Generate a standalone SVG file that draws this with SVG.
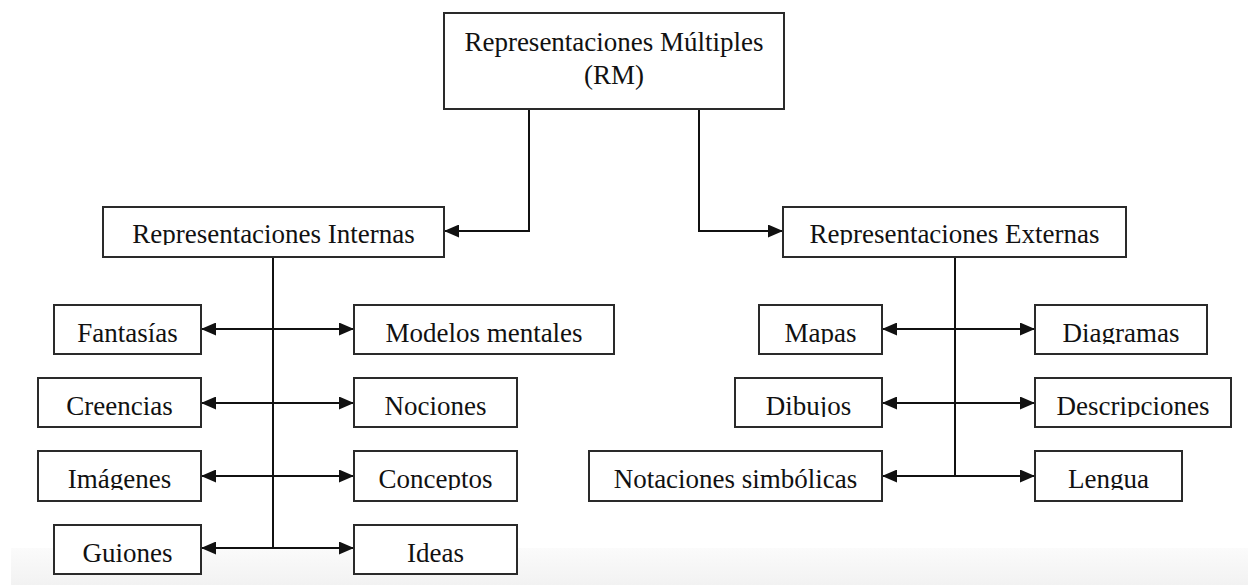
<svg xmlns="http://www.w3.org/2000/svg" width="1248" height="585" viewBox="0 0 1248 585">
  <style>
    .box { fill: #ffffff; stroke: #2a2a2a; stroke-width: 2; }
    .lbl { font-family: "Liberation Serif", "Times New Roman", serif; font-size: 27px; fill: #111111; text-anchor: middle; }
    .conn { fill: none; stroke: #111111; stroke-width: 2; }
    .arrow { marker-end: url(#ah); }
    .both { marker-start: url(#ah); marker-end: url(#ah); }
  </style>
  <defs>
    <marker id="ah" viewBox="0 0 15 13" refX="15" refY="6.5" markerWidth="15" markerHeight="13" markerUnits="userSpaceOnUse" orient="auto-start-reverse">
      <path d="M0,0 L15,6.5 L0,13 z" fill="#111111"/>
    </marker>
    <linearGradient id="band" x1="0" y1="0" x2="0" y2="1">
      <stop offset="0" stop-color="#fbfbfb"/>
      <stop offset="1" stop-color="#f2f2f2"/>
    </linearGradient>
    <clipPath id="r0" clipPathUnits="userSpaceOnUse"><rect x="0" y="200" width="1248" height="45"/></clipPath>
    <clipPath id="r1" clipPathUnits="userSpaceOnUse"><rect x="0" y="300" width="1248" height="44"/></clipPath>
    <clipPath id="r2" clipPathUnits="userSpaceOnUse"><rect x="0" y="372" width="1248" height="45"/></clipPath>
    <clipPath id="r3" clipPathUnits="userSpaceOnUse"><rect x="0" y="445" width="1248" height="45"/></clipPath>
    <clipPath id="r4" clipPathUnits="userSpaceOnUse"><rect x="0" y="518" width="1248" height="46"/></clipPath>
  </defs>

  <rect x="0" y="0" width="1248" height="585" fill="#ffffff"/>
  <rect x="11" y="548" width="1237" height="37" fill="url(#band)"/>

  <g id="connectors">
    <path class="conn arrow" d="M529,109 V231 H444"/>
    <path class="conn arrow" d="M699,109 V231 H783"/>
    <path class="conn" d="M273,257 V548"/>
    <path class="conn both" d="M201,329 H354"/>
    <path class="conn both" d="M201,403 H354"/>
    <path class="conn both" d="M201,476 H354"/>
    <path class="conn both" d="M201,548 H354"/>
    <path class="conn" d="M955,257 V476"/>
    <path class="conn both" d="M882,329 H1035"/>
    <path class="conn both" d="M882,403 H1035"/>
    <path class="conn both" d="M882,476 H1035"/>
  </g>

  <g id="rm">
    <rect class="box" x="444" y="13" width="340" height="96"/>
    <text class="lbl" x="614" y="51">Representaciones Múltiples</text>
    <text class="lbl" x="614" y="84">(RM)</text>
  </g>

  <g id="internas">
    <rect class="box" x="103" y="207" width="341" height="50"/>
    <text class="lbl" x="273.5" y="243" clip-path="url(#r0)">Representaciones Internas</text>
  </g>
  <g id="externas">
    <rect class="box" x="783" y="207" width="343" height="50"/>
    <text class="lbl" x="954.5" y="243" clip-path="url(#r0)">Representaciones Externas</text>
  </g>

  <g id="fantasias">
    <rect class="box" x="54" y="305" width="147" height="49"/>
    <text class="lbl" x="127.5" y="342" clip-path="url(#r1)">Fantasías</text>
  </g>
  <g id="creencias">
    <rect class="box" x="38" y="378" width="163" height="49"/>
    <text class="lbl" x="119.5" y="415" clip-path="url(#r2)">Creencias</text>
  </g>
  <g id="imagenes">
    <rect class="box" x="38" y="451" width="163" height="50"/>
    <text class="lbl" x="119.5" y="488" clip-path="url(#r3)">Imágenes</text>
  </g>
  <g id="guiones">
    <rect class="box" x="54" y="525" width="147" height="49"/>
    <text class="lbl" x="127.5" y="562" clip-path="url(#r4)">Guiones</text>
  </g>

  <g id="modelos">
    <rect class="box" x="354" y="305" width="260" height="49"/>
    <text class="lbl" x="484" y="342" clip-path="url(#r1)">Modelos mentales</text>
  </g>
  <g id="nociones">
    <rect class="box" x="354" y="378" width="163" height="49"/>
    <text class="lbl" x="435.5" y="415" clip-path="url(#r2)">Nociones</text>
  </g>
  <g id="conceptos">
    <rect class="box" x="354" y="451" width="163" height="50"/>
    <text class="lbl" x="435.5" y="488" clip-path="url(#r3)">Conceptos</text>
  </g>
  <g id="ideas">
    <rect class="box" x="354" y="525" width="163" height="49"/>
    <text class="lbl" x="435.5" y="562" clip-path="url(#r4)">Ideas</text>
  </g>

  <g id="mapas">
    <rect class="box" x="759" y="305" width="123" height="49"/>
    <text class="lbl" x="820.5" y="342" clip-path="url(#r1)">Mapas</text>
  </g>
  <g id="dibujos">
    <rect class="box" x="735" y="378" width="147" height="49"/>
    <text class="lbl" x="808.5" y="415" clip-path="url(#r2)">Dibujos</text>
  </g>
  <g id="notaciones">
    <rect class="box" x="589" y="451" width="293" height="50"/>
    <text class="lbl" x="735.5" y="488" clip-path="url(#r3)">Notaciones simbólicas</text>
  </g>

  <g id="diagramas">
    <rect class="box" x="1035" y="305" width="172" height="49"/>
    <text class="lbl" x="1121" y="342" clip-path="url(#r1)">Diagramas</text>
  </g>
  <g id="descripciones">
    <rect class="box" x="1035" y="378" width="196" height="49"/>
    <text class="lbl" x="1133" y="415" clip-path="url(#r2)">Descripciones</text>
  </g>
  <g id="lengua">
    <rect class="box" x="1035" y="451" width="147" height="50"/>
    <text class="lbl" x="1108.5" y="488" clip-path="url(#r3)">Lengua</text>
  </g>
</svg>
